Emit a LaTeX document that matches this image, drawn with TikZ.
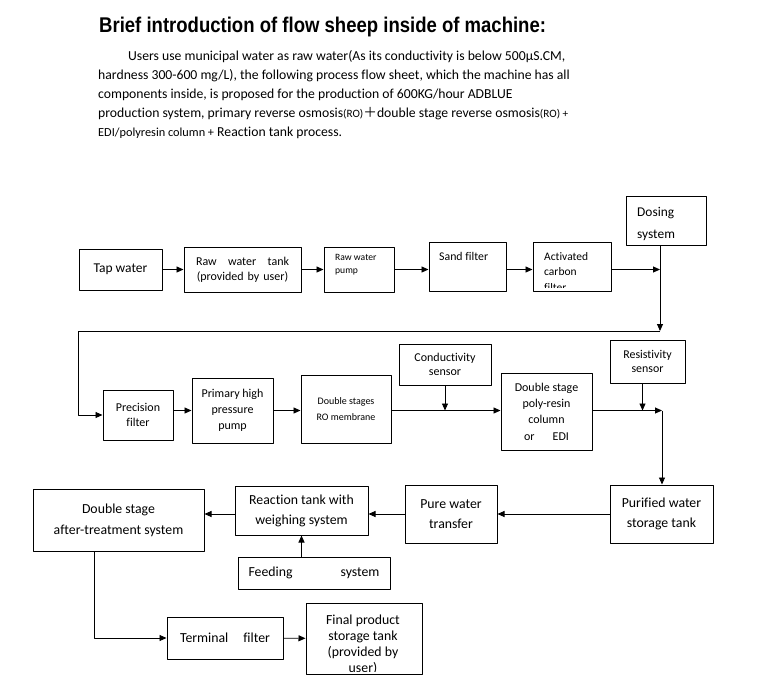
\documentclass[tikz,border=0pt]{standalone}
\usepackage{fontspec}
\setmainfont{Carlito}[Ligatures=NoCommon]
\newfontfamily\titlefont[FakeStretch=0.87]{Liberation Sans}
\newfontfamily\cjk{Noto Sans CJK SC}
\usetikzlibrary{arrows.meta}
\newcommand{\fs}[2]{\fontsize{#1}{#2}\selectfont}
\tikzset{
  box/.style={draw, line width=1pt, inner sep=0pt, align=center},
  flow/.style={line width=0.9pt, -{Triangle[length=7pt,width=6pt]}},
  txt/.style={inner sep=0pt, align=left, anchor=west},
  para/.style={inner sep=0pt, anchor=base west, font=\fs{13.7}{19}},
}
\begin{document}
\begin{tikzpicture}[x=1pt, y=-1pt, line join=round]
\useasboundingbox (0,0) rectangle (763,691);
% heading and description
\node[inner sep=0pt, anchor=base west, font=\titlefont\bfseries\fs{21.3}{24}] (title) at (99,32) {Brief introduction of flow sheep inside of machine:};
\node[para] (p1) at (128,60.5) {Users use municipal water as raw water(As its conductivity is below 500µS.CM,};
\node[para] (p2) at (98,79.5) {hardness 300-600 mg/L), the following process flow sheet, which the machine has all};
\node[para] (p3) at (98,98.5) {components inside, is proposed for the production of 600KG/hour ADBLUE};
\node[para] (p4) at (98,117.7) {production system, primary reverse osmosis{\fs{11.2}{13}(RO)}{\cjk ＋}double stage reverse osmosis{\fs{11.2}{13}(RO) +}};
\node[para] (p5) at (98,136.8) {{\fs{12.3}{13}EDI/polyresin column +} Reaction tank process.};

% first row
\node[box, minimum width=83pt, minimum height=41pt, font=\fs{13.5}{16}] (tap) at (120.5,269.5) {Tap water};
\node[box, minimum width=117pt, minimum height=45pt, text width=93pt, font=\fs{12}{15}] (rawtank) at (242.5,269.5) {Raw\hfill water\hfill tank\\(provided by user)};
\node[box, minimum width=70pt, minimum height=45pt] (rawpump) at (359,269.5) {};
\node[txt, font=\fs{9.6}{13.3}] (rawpumptxt) at (335,264.4) {Raw water\\pump};
\node[box, minimum width=77pt, minimum height=49pt] (sand) at (467.5,266.5) {};
\node[txt, font=\fs{11.8}{15}] (sandtxt) at (439,256) {Sand filter};
\node[box, minimum width=78pt, minimum height=49pt] (carbon) at (572,266.5) {};
\begin{scope}
  \clip ([yshift=4pt]carbon.south west) rectangle (carbon.north east);
  \node[txt, font=\fs{11.5}{15.5}] (carbontxt) at (544,271.6) {Activated\\carbon\\filter};
\end{scope}
\node[box, minimum width=80pt, minimum height=49pt] (dosing) at (666,220.5) {};
\node[txt, font=\fs{13.4}{22}] (dosingtxt) at (637,224) {Dosing\\system};
\coordinate (j1) at (660,269.5);
\coordinate (j2) at (660,331);
\coordinate (j3) at (78,331);
\draw[flow] (tap) -- (rawtank);
\draw[flow] (rawtank) -- (rawpump);
\draw[flow] (rawpump.east) -- (rawpump.east -| sand.west);
\draw[flow] (sand.east |- rawpump.east) -- (carbon.west |- rawpump.east);
\draw[flow] (carbon.east |- j1) -- (j1);
\draw[flow] (dosing.south -| j2) -- (j2);

% second row
\node[box, minimum width=70pt, minimum height=50pt, font=\fs{12}{15}] (precision) at (138,415) {Precision\\filter};
\node[box, minimum width=81pt, minimum height=65pt, font=\fs{12}{16}] (hppump) at (232.5,410.5) {Primary high\\pressure\\pump};
\node[box, minimum width=90pt, minimum height=68pt, font=\fs{10}{16}] (romem) at (346,409) {Double stages\\RO membrane};
\node[box, minimum width=92pt, minimum height=41pt, font=\fs{12}{14.7}] (cond) at (445,364.5) {Conductivity\\sensor};
\node[box, minimum width=91pt, minimum height=77pt, font=\fs{12}{16.3}] (resin) at (546.5,411.5) {Double stage\\poly-resin\\column\\\makebox[45pt]{or\hfill EDI}};
\node[box, minimum width=75pt, minimum height=43pt, font=\fs{11.9}{14}] (resist) at (647.5,361.5) {Resistivity\\sensor};
\coordinate (j4) at (662,410.5);
\draw[flow] (j2) -- (j3) |- (precision.west);
\draw[flow] (precision.east |- hppump) -- (hppump.west);
\draw[flow] (hppump.east) -- (hppump.east -| romem.west);
\draw[flow] (romem.east |- hppump) -- (resin.west |- hppump);
\draw[flow] (cond) -- (cond |- hppump);
\draw[flow] (resin.east |- hppump) -- (j4);
\draw[flow] ([xshift=-5pt]resist.south) -- ([xshift=-5pt]resist.south |- j4);

% third row
\node[box, minimum width=103pt, minimum height=58pt, font=\fs{13.8}{20}] (purified) at (661.5,514) {Purified water\\storage tank};
\node[box, minimum width=92pt, minimum height=58pt, font=\fs{13.8}{20}] (purewater) at (451,514) {Pure water\\transfer};
\node[box, minimum width=133pt, minimum height=49pt, font=\fs{13.8}{20}] (reaction) at (301.5,510.5) {Reaction tank with\\weighing system};
\node[box, minimum width=171pt, minimum height=62pt, font=\fs{13.8}{20.7}] (after) at (118.5,520) {Double stage\\after-treatment system};
\node[box, minimum width=152pt, minimum height=32pt, text width=131pt, font=\fs{13.8}{16}] (feeding) at (314,573) {Feeding\hfill system};
\draw[flow] (j4) -- (j4 |- purified.north);
\draw[flow] (purified) -- (purewater);
\draw[flow] (purewater.west) -- (purewater.west -| reaction.east);
\draw[flow] (reaction.west |- purewater) -- (after.east |- purewater);
\draw[flow] (reaction.south |- feeding.north) -- (reaction.south);

% last row
\node[box, minimum width=116pt, minimum height=42pt, text width=90pt, font=\fs{13.8}{16}] (terminal) at (225,638) {Terminal\hfill filter};
\node[box, minimum width=116pt, minimum height=71pt] (final) at (364,638.5) {};
\begin{scope}
  \clip ([yshift=3pt]final.south west) rectangle (final.north east);
  \node[inner sep=0pt, align=center, font=\fs{13.8}{16}] (finaltxt) at (363,645) {Final product\\storage tank\\(provided by\\user)};
\end{scope}
\draw[flow] ([xshift=-24pt]after.south) |- (terminal.west);
\draw[flow] (terminal) -- (final);
\end{tikzpicture}
\end{document}
